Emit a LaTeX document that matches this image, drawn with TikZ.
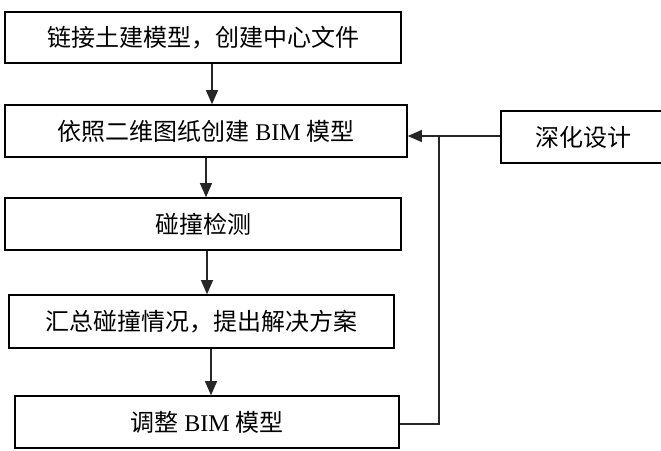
\documentclass[tikz,border=0pt]{standalone}
\usepackage{fontspec}
\setmainfont{Liberation Serif}
\newfontfamily\cjk{Noto Sans CJK SC}
\usetikzlibrary{arrows.meta}
\begin{document}
\begin{tikzpicture}[x=1pt,y=-1pt,
  box/.style={draw=black,line width=1.6pt,fill=white,inner sep=0pt,anchor=center,
    font=\fontsize{24}{28}\selectfont\cjk},
  conn/.style={line width=1.1pt,draw=black!85},
  arr/.style={conn,-{Triangle[width=12pt,length=14pt]}}]
\useasboundingbox (0,0) rectangle (661,450);
\fill[white] (0,0) rectangle (661,450);
\node[box,minimum width=396pt,minimum height=51pt] (b1) at (203,37.5) {链接土建模型，创建中心文件};
\node[box,minimum width=402pt,minimum height=52pt] (b2) at (206,131) {依照二维图纸创建 {\rmfamily BIM} 模型};
\node[box,minimum width=396pt,minimum height=52pt] (b3) at (203,224) {碰撞检测};
\node[box,minimum width=385pt,minimum height=53pt] (b4) at (201.5,321.5) {汇总碰撞情况，提出解决方案};
\node[box,minimum width=384pt,minimum height=52pt] (b5) at (207,422) {调整 {\rmfamily BIM} 模型};
\node[box,minimum width=164pt,minimum height=52pt] (side) at (583,137) {深化设计};
\coordinate (a1) at (212,0);
\coordinate (a2) at (206,0);
\coordinate (a3) at (207,0);
\coordinate (a4) at (211,0);
\coordinate (j) at (439,136);
\coordinate (fb) at (439,424);
\draw[arr] (b1.south -| a1) -- (b2.north -| a1);
\draw[arr] (b2.south -| a2) -- (b3.north -| a2);
\draw[arr] (b3.south -| a3) -- (b4.north -| a3);
\draw[arr] (b4.south -| a4) -- (b5.north -| a4);
\draw[arr] (side.west |- j) -- (b2.east |- j);
\draw[conn] (b5.east |- fb) -- (fb) -- (j);
\end{tikzpicture}
\end{document}
